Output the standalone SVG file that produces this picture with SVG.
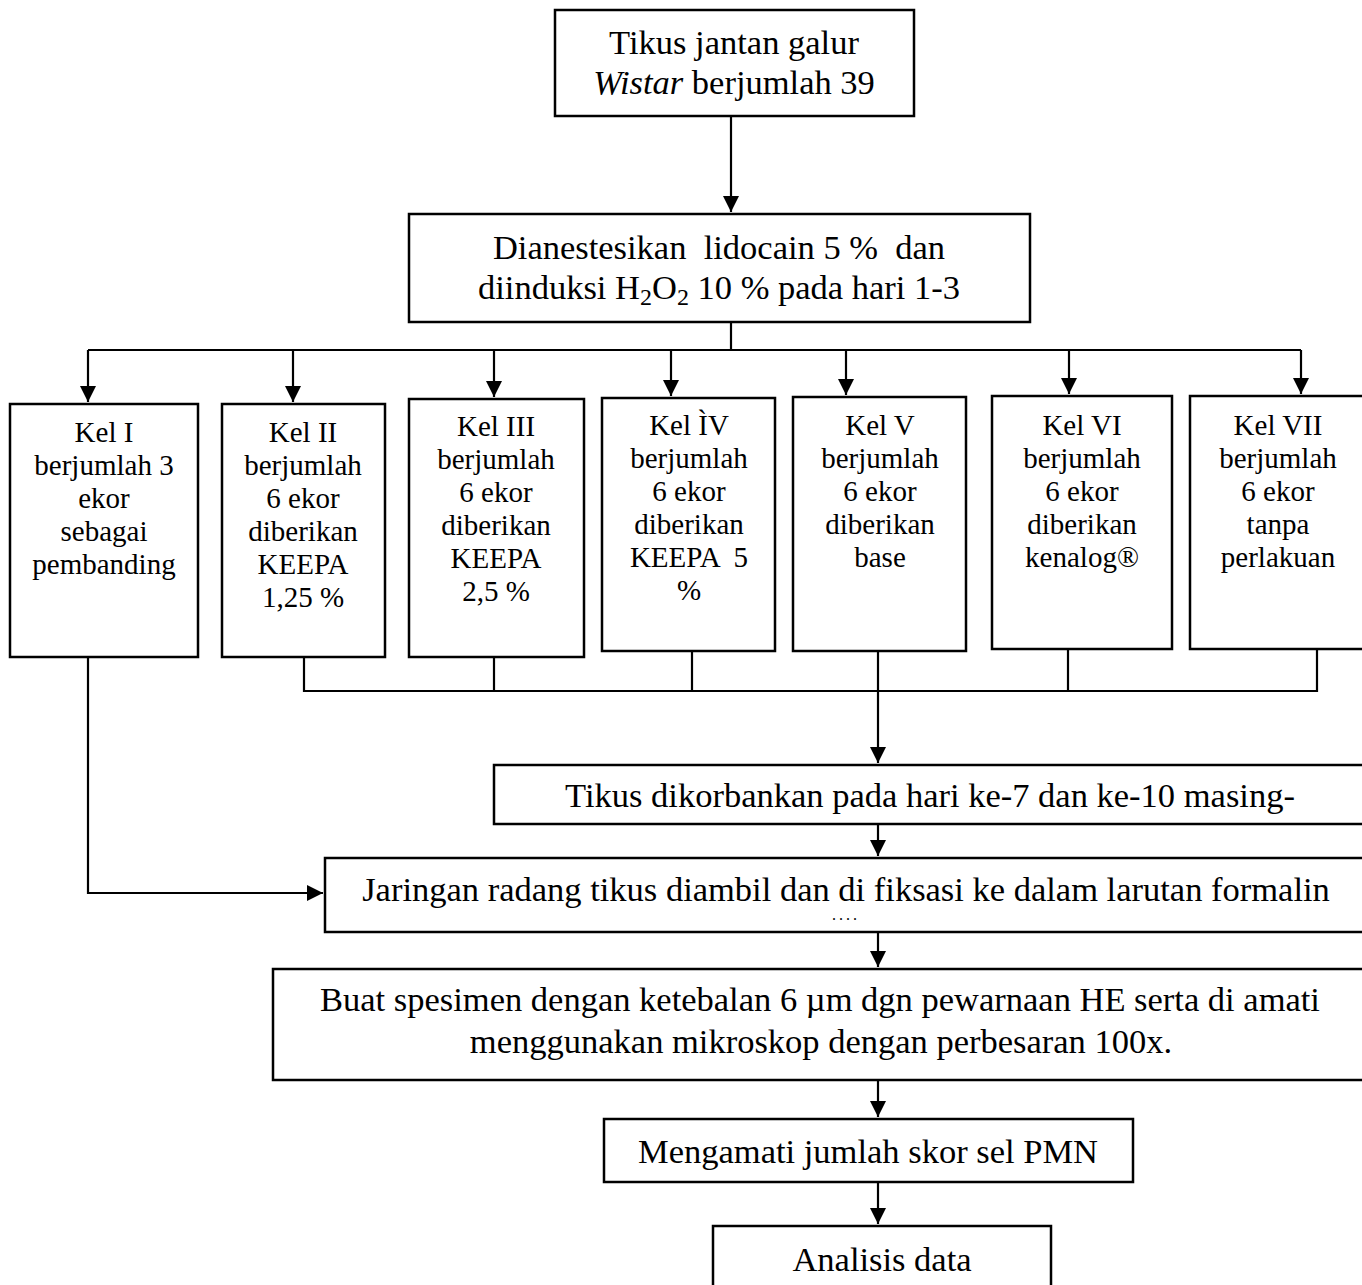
<svg xmlns="http://www.w3.org/2000/svg" width="1362" height="1285" viewBox="0 0 1362 1285">
<style>
.box{fill:#fff;stroke:#000;stroke-width:2.5}
.ln{fill:none;stroke:#000;stroke-width:2.2}
.t{font-family:"Liberation Serif","Times New Roman",serif;fill:#000;text-anchor:middle}
.big{font-size:34.5px}
.sm{font-size:29px}
</style>
<defs>
<marker id="ah" markerUnits="userSpaceOnUse" markerWidth="16" markerHeight="20" refX="16" refY="8" orient="auto">
<path d="M0,0 L16,8 L0,16 Z" fill="#000"/>
</marker>
</defs>
<rect width="1362" height="1285" fill="#fff"/>
<g id="connectors">
<path class="ln" d="M731,116 V212" marker-end="url(#ah)"/>
<path class="ln" d="M731,322 V350 M88,350 H1301"/>
<path class="ln" d="M88,350 V402" marker-end="url(#ah)"/>
<path class="ln" d="M293,350 V402" marker-end="url(#ah)"/>
<path class="ln" d="M494,350 V397" marker-end="url(#ah)"/>
<path class="ln" d="M671,350 V396" marker-end="url(#ah)"/>
<path class="ln" d="M846,350 V395" marker-end="url(#ah)"/>
<path class="ln" d="M1069,350 V394" marker-end="url(#ah)"/>
<path class="ln" d="M1301,350 V394" marker-end="url(#ah)"/>
<path class="ln" d="M304,657 V691 H1317 V649 M494,657 V691 M692,651 V691 M1068,649 V691"/>
<path class="ln" d="M878,651 V763" marker-end="url(#ah)"/>
<path class="ln" d="M88,657 V893 H323" marker-end="url(#ah)"/>
<path class="ln" d="M878,824 V856" marker-end="url(#ah)"/>
<path class="ln" d="M878,932 V967" marker-end="url(#ah)"/>
<path class="ln" d="M878,1080 V1117" marker-end="url(#ah)"/>
<path class="ln" d="M878,1182 V1224" marker-end="url(#ah)"/>
</g>
<g id="n-start">
<rect class="box" x="555" y="10" width="359" height="106"/>
<text class="t big" x="734" y="54">Tikus jantan galur</text>
<text class="t big" x="734" y="94"><tspan font-style="italic">Wistar</tspan> berjumlah 39</text>
</g>
<g id="n-anestesi">
<rect class="box" x="409" y="214" width="621" height="108"/>
<text class="t big" x="719" y="259" xml:space="preserve">Dianestesikan  lidocain 5 %  dan</text>
<text class="t big" x="719" y="299">diinduksi H<tspan font-size="24" dy="6">2</tspan><tspan dy="-6">O</tspan><tspan font-size="24" dy="6">2</tspan><tspan dy="-6"> 10 % pada hari 1-3</tspan></text>
</g>
<g id="n-kel1">
<rect class="box" x="10" y="404" width="188" height="253"/>
<text class="t sm" x="104" y="442">Kel I</text>
<text class="t sm" x="104" y="475">berjumlah 3</text>
<text class="t sm" x="104" y="508">ekor</text>
<text class="t sm" x="104" y="541">sebagai</text>
<text class="t sm" x="104" y="574">pembanding</text>
</g>
<g id="n-kel2">
<rect class="box" x="222" y="404" width="163" height="253"/>
<text class="t sm" x="303" y="442">Kel II</text>
<text class="t sm" x="303" y="475">berjumlah</text>
<text class="t sm" x="303" y="508">6 ekor</text>
<text class="t sm" x="303" y="541">diberikan</text>
<text class="t sm" x="303" y="574">KEEPA</text>
<text class="t sm" x="303" y="607">1,25 %</text>
</g>
<g id="n-kel3">
<rect class="box" x="409" y="399" width="175" height="258"/>
<text class="t sm" x="496" y="436">Kel III</text>
<text class="t sm" x="496" y="469">berjumlah</text>
<text class="t sm" x="496" y="502">6 ekor</text>
<text class="t sm" x="496" y="535">diberikan</text>
<text class="t sm" x="496" y="568">KEEPA</text>
<text class="t sm" x="496" y="601">2,5 %</text>
</g>
<g id="n-kel4">
<rect class="box" x="602" y="398" width="173" height="253"/>
<text class="t sm" x="689" y="435">Kel ÌV</text>
<text class="t sm" x="689" y="468">berjumlah</text>
<text class="t sm" x="689" y="501">6 ekor</text>
<text class="t sm" x="689" y="534">diberikan</text>
<text class="t sm" x="689" y="567" xml:space="preserve">KEEPA  5</text>
<text class="t sm" x="689" y="600">%</text>
</g>
<g id="n-kel5">
<rect class="box" x="793" y="397" width="173" height="254"/>
<text class="t sm" x="880" y="435">Kel V</text>
<text class="t sm" x="880" y="468">berjumlah</text>
<text class="t sm" x="880" y="501">6 ekor</text>
<text class="t sm" x="880" y="534">diberikan</text>
<text class="t sm" x="880" y="567">base</text>
</g>
<g id="n-kel6">
<rect class="box" x="992" y="396" width="180" height="253"/>
<text class="t sm" x="1082" y="435">Kel VI</text>
<text class="t sm" x="1082" y="468">berjumlah</text>
<text class="t sm" x="1082" y="501">6 ekor</text>
<text class="t sm" x="1082" y="534">diberikan</text>
<text class="t sm" x="1082" y="567">kenalog®</text>
</g>
<g id="n-kel7">
<rect class="box" x="1190" y="396" width="180" height="253"/>
<text class="t sm" x="1278" y="435">Kel VII</text>
<text class="t sm" x="1278" y="468">berjumlah</text>
<text class="t sm" x="1278" y="501">6 ekor</text>
<text class="t sm" x="1278" y="534">tanpa</text>
<text class="t sm" x="1278" y="567">perlakuan</text>
</g>
<g id="n-korban">
<rect class="box" x="494" y="765" width="880" height="59"/>
<text class="t big" x="930" y="807">Tikus dikorbankan pada hari ke-7 dan ke-10 masing-</text>
</g>
<g id="n-jaringan">
<rect class="box" x="325" y="858" width="1050" height="74"/>
<text class="t big" x="846" y="901">Jaringan radang tikus diambil dan di fiksasi ke dalam larutan formalin</text>
<text class="t" x="846" y="920" font-size="16" letter-spacing="3">....</text>
</g>
<g id="n-spesimen">
<rect class="box" x="273" y="969" width="1100" height="111"/>
<text class="t big" x="820" y="1011">Buat spesimen dengan ketebalan 6 µm dgn pewarnaan HE serta di amati</text>
<text class="t big" x="821" y="1053">menggunakan mikroskop dengan perbesaran 100x.</text>
</g>
<g id="n-pmn">
<rect class="box" x="604" y="1119" width="529" height="63"/>
<text class="t big" x="868" y="1163">Mengamati jumlah skor sel PMN</text>
</g>
<g id="n-analisis">
<rect class="box" x="713" y="1226" width="338" height="70"/>
<text class="t big" x="882" y="1271">Analisis data</text>
</g>
</svg>
